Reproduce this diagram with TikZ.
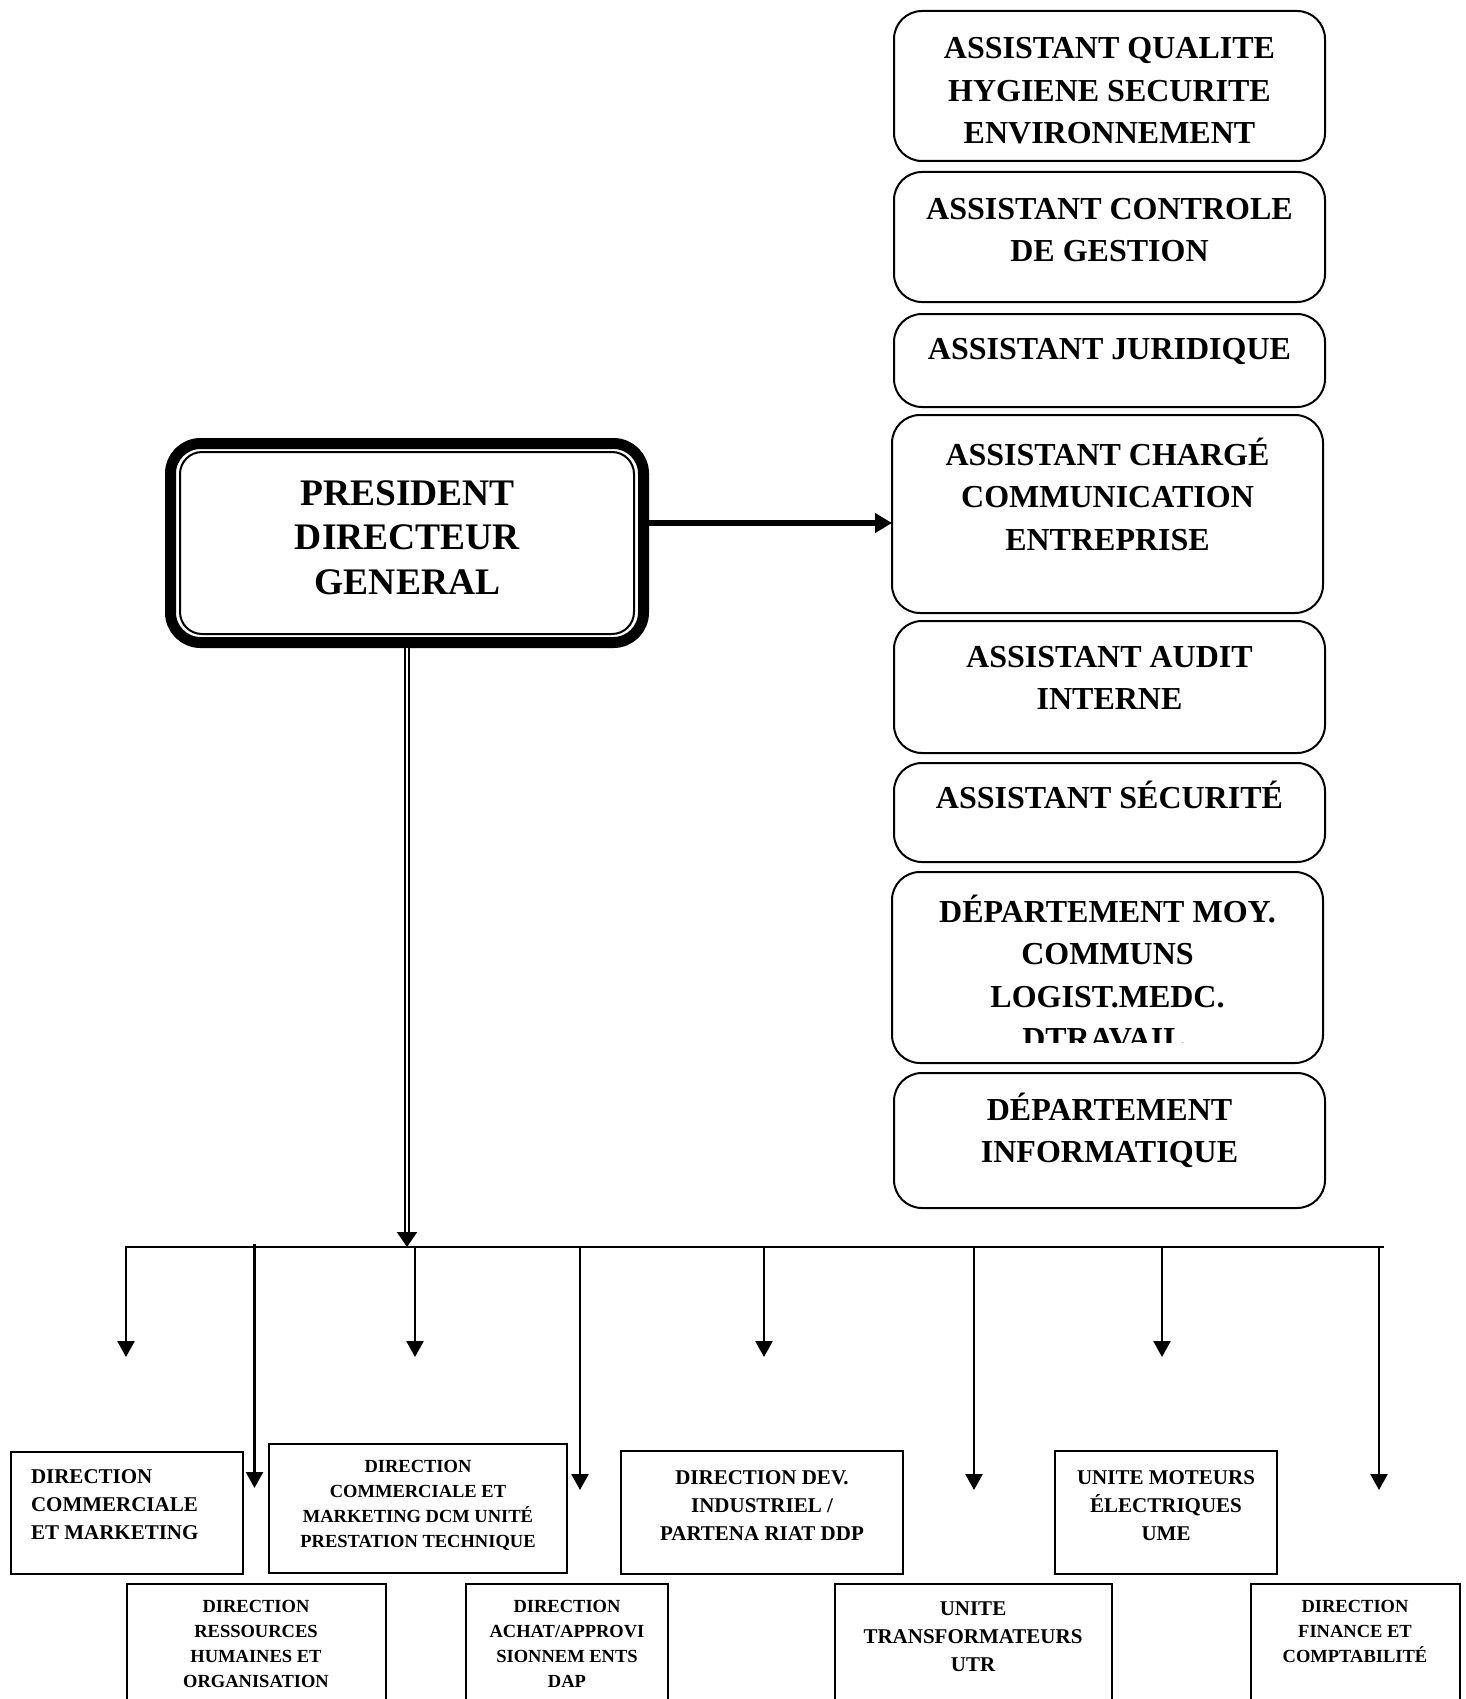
\documentclass[tikz,border=0pt]{standalone}
\usepackage{fontspec}
\setmainfont{Liberation Serif}
\usetikzlibrary{arrows.meta}
% zero-width rule that fixes the top of the first text line
\newcommand\lnstrut{\rule{0pt}{1em}}
\tikzset{
  rbox/.style={draw, line width=2pt, rounded corners=28pt, inner sep=0pt, outer sep=0pt, anchor=north west},
  sbox/.style={draw, line width=2pt, inner sep=0pt, outer sep=0pt, anchor=north west},
  lbl/.style={inner sep=0pt, outer sep=0pt, anchor=north, align=center},
  rfont/.style={font=\fontsize{32}{42.5}\selectfont\bfseries},
  pfont/.style={font=\fontsize{37.5}{44.5}\selectfont\bfseries},
  mfont/.style={font=\fontsize{21}{28}\selectfont\bfseries},
  sfont/.style={font=\fontsize{18.5}{25}\selectfont\bfseries},
  harrow/.style={line width=6pt, -{Triangle[length=17pt,width=19pt]}},
  dbl/.style={double, line width=2.3pt, double distance=2pt},
  dhead/.style={line width=2pt, -{Triangle[length=15pt,width=20pt]}},
  bus/.style={line width=2.6pt, line cap=rect},
  drop/.style={line width=2.6pt, -{Triangle[length=16pt,width=17pt]}},
}
\begin{document}
\begin{tikzpicture}[x=1pt,y=-1pt]
\useasboundingbox (0,0) rectangle (1466,1699);
\clip (0,0) rectangle (1466,1699);

% ---- President ----
\node[draw, line width=11pt, rounded corners=30pt, inner sep=0pt,
      minimum width=473pt, minimum height=199pt] (pdg) at (407,543) {};
\node[draw, line width=2pt, rounded corners=22pt, inner sep=0pt,
      minimum width=454pt, minimum height=182pt] (pdgin) at (pdg.center) {};
\node[lbl, pfont] (pdgtxt) at (407.5,467.5) {\lnstrut PRESIDENT\\DIRECTEUR\\GENERAL};

% ---- staff column ----
\node[rbox, minimum width=431pt, minimum height=150pt] (qhse) at (894,11) {};
\node[lbl, rfont] (qhsetxt) at (1109.5,27) {\lnstrut ASSISTANT QUALITE\\HYGIENE SECURITE\\ENVIRONNEMENT};

\node[rbox, minimum width=431pt, minimum height=130pt] (cdg) at (894,172) {};
\node[lbl, rfont] (cdgtxt) at (1109.5,187) {\lnstrut ASSISTANT CONTROLE\\DE GESTION};

\node[rbox, minimum width=431pt, minimum height=93pt] (jur) at (894,314) {};
\node[lbl, rfont] (jurtxt) at (1109.5,327) {\lnstrut ASSISTANT JURIDIQUE};

\node[rbox, minimum width=431pt, minimum height=198pt] (com) at (892,415) {};
\node[lbl, rfont] (comtxt) at (1107.5,433) {\lnstrut ASSISTANT CHARGÉ\\COMMUNICATION\\ENTREPRISE};

\node[rbox, minimum width=431pt, minimum height=132pt] (aud) at (894,621) {};
\node[lbl, rfont] (audtxt) at (1109.5,635) {\lnstrut ASSISTANT AUDIT\\INTERNE};

\node[rbox, minimum width=431pt, minimum height=99pt] (sec) at (894,763) {};
\node[lbl, rfont] (sectxt) at (1109.5,776) {\lnstrut ASSISTANT SÉCURITÉ};

\node[rbox, minimum width=431pt, minimum height=191pt] (moy) at (892,872) {};
\begin{scope}
  \clip (892,872) rectangle (1323,1042);
  \node[lbl, rfont] (moytxt) at (1107.5,890) {\lnstrut DÉPARTEMENT MOY.\\COMMUNS\\LOGIST.MEDC.\\DTRAVAIL.};
\end{scope}

\node[rbox, minimum width=431pt, minimum height=135pt] (inf) at (894,1073) {};
\node[lbl, rfont] (inftxt) at (1109.5,1088) {\lnstrut DÉPARTEMENT\\INFORMATIQUE};

% ---- directions ----
\node[sbox, minimum width=232pt, minimum height=122pt] (dcm) at (11,1452) {};
\node[lbl, mfont, anchor=north west, align=left] (dcmtxt) at (31,1462) {\lnstrut DIRECTION\\COMMERCIALE\\ET MARKETING};

\node[sbox, minimum width=298pt, minimum height=129pt] (dpt) at (269,1444) {};
\node[lbl, sfont] (dpttxt) at (418,1453.5) {\lnstrut DIRECTION\\COMMERCIALE ET\\MARKETING DCM UNITÉ\\PRESTATION TECHNIQUE};

\node[sbox, minimum width=282pt, minimum height=123pt] (ddp) at (621,1451) {};
\node[lbl, mfont] (ddptxt) at (762,1463) {\lnstrut DIRECTION DEV.\\INDUSTRIEL /\\PARTENA RIAT DDP};

\node[sbox, minimum width=222pt, minimum height=123pt] (ume) at (1055,1451) {};
\node[lbl, mfont] (umetxt) at (1166,1463) {\lnstrut UNITE MOTEURS\\ÉLECTRIQUES\\UME};

\node[sbox, minimum width=259pt, minimum height=160pt] (drh) at (127,1584) {};
\node[lbl, sfont] (drhtxt) at (256,1593.5) {\lnstrut DIRECTION\\RESSOURCES\\HUMAINES ET\\ORGANISATION};

\node[sbox, minimum width=202pt, minimum height=160pt] (dap) at (466,1584) {};
\node[lbl, sfont] (daptxt) at (567,1593.5) {\lnstrut DIRECTION\\ACHAT/APPROVI\\SIONNEM ENTS\\DAP};

\node[sbox, minimum width=277pt, minimum height=160pt] (utr) at (835,1584) {};
\node[lbl, mfont] (utrtxt) at (973,1594) {\lnstrut UNITE\\TRANSFORMATEURS\\UTR};

\node[sbox, minimum width=209pt, minimum height=160pt] (dfc) at (1251,1584) {};
\node[lbl, sfont] (dfctxt) at (1355,1593.5) {\lnstrut DIRECTION\\FINANCE ET\\COMPTABILITÉ};

% ---- connectors ----
\draw[harrow] ([yshift=20pt]pdg.east) -- ([yshift=20pt]pdg.east -| com.west);

\coordinate (busL) at (126,1247);
\coordinate (busR) at (1383,1247);
\coordinate (busM) at (pdg.south |- busL);
\coordinate (dblEnd) at (pdg.south |- 0,1233);
\draw[dbl] (pdg.south) -- (dblEnd);
\draw[dhead] (dblEnd) -- (busM);
\draw[bus] (busL) -- (busR);

\foreach \i/\x/\y/\t in {1/126/1247/1357, 2/254.5/1244/1488, 3/415/1247/1357,
    4/580/1247/1490, 5/764/1247/1357, 6/974/1247/1490, 7/1162/1247/1357, 8/1379/1247/1490}{
  \coordinate (b\i) at (\x,\y);
  \coordinate (t\i) at (\x,\t);
  \draw[drop] (b\i) -- (t\i);
}
\end{tikzpicture}
\end{document}
